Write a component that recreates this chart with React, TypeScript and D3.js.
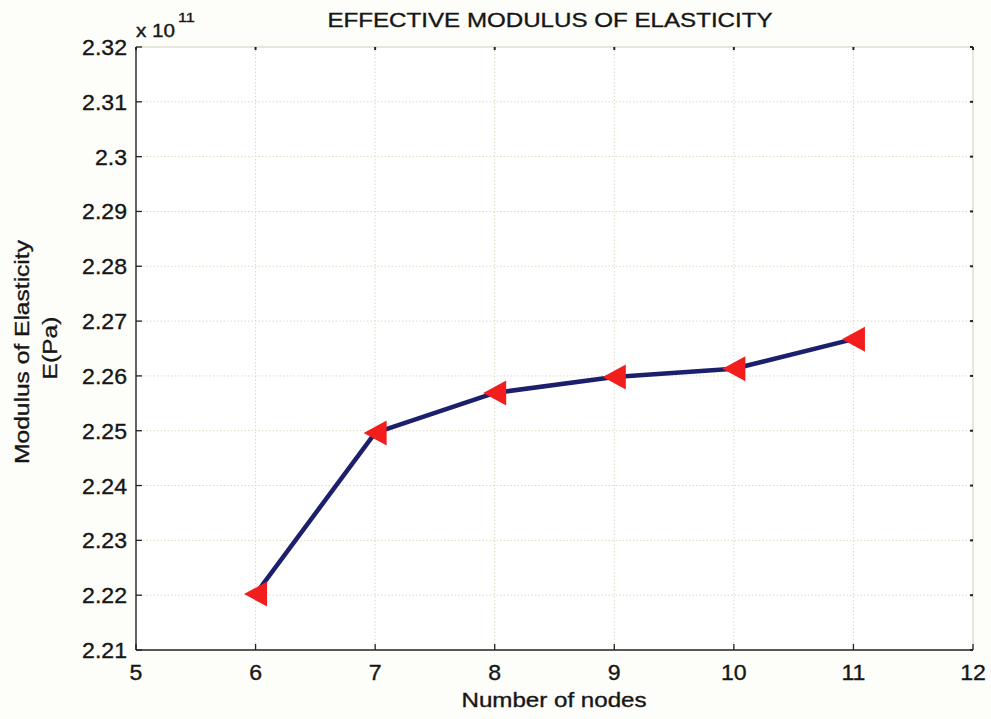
import React from "react";
import * as d3 from "d3";

// Effective modulus of elasticity vs. number of nodes
const nodes: number[] = [6, 7, 8, 9, 10, 11];
const modulus: number[] = [2.2202, 2.2496, 2.2569, 2.2598, 2.2613, 2.2667]; // ×10^11 Pa
const xTicks: number[] = [5, 6, 7, 8, 9, 10, 11, 12];
const yTicks: number[] = [2.21, 2.22, 2.23, 2.24, 2.25, 2.26, 2.27, 2.28, 2.29, 2.3, 2.31, 2.32];

const W = 991;
const H = 719;
const M = { left: 136, right: 973, top: 47, bottom: 650 };
const FONT = "'Liberation Sans', Arial, Helvetica, sans-serif";
const INK = "#161616";

// Text with a slightly widened, heavier face
function T(props: {
  x: number; y: number; size: number; anchor?: "start" | "middle" | "end";
  sx?: number; rotate?: number; children: React.ReactNode;
}) {
  const { x, y, size, anchor = "start", sx = 1.15, rotate = 0, children } = props;
  return (
    <g transform={`translate(${x},${y}) rotate(${rotate}) scale(${sx},1)`}>
      <text x={0} y={0} textAnchor={anchor} fontSize={size} fill={INK}
        stroke={INK} strokeWidth={0.35}>{children}</text>
    </g>
  );
}

export default function App() {
  const x = d3.scaleLinear().domain([5, 12]).range([M.left, M.right]);
  const y = d3.scaleLinear().domain([2.21, 2.32]).range([M.bottom, M.top]);

  const line = d3
    .line<number>()
    .x((_, i) => x(nodes[i]))
    .y((d) => y(d));

  const yFmt = (v: number) => String(+v.toFixed(2));

  // left-pointing triangle marker centred on the point
  const tri = (cx: number, cy: number) => {
    const w = 23, h = 25;
    return `M${cx - w / 2},${cy} L${cx + w / 2},${cy - h / 2} L${cx + w / 2},${cy + h / 2} Z`;
  };

  return (
    <svg
      width={W}
      height={H}
      style={{ position: "absolute", left: 0, top: 0, background: "#fdfdf9" }}
      fontFamily={FONT}
    >
      <rect x={0} y={0} width={W} height={H} fill="#fdfdf9" />
      <rect x={M.left} y={M.top} width={M.right - M.left} height={M.bottom - M.top} fill="#ffffff" />

      {/* grid */}
      {xTicks.slice(1, -1).map((t) => (
        <line key={"gx" + t} x1={x(t)} x2={x(t)} y1={M.top} y2={M.bottom}
          stroke="#dcdac2" strokeWidth={1} strokeDasharray="1.5 2" />
      ))}
      {yTicks.slice(1, -1).map((t) => (
        <line key={"gy" + t} x1={M.left} x2={M.right} y1={y(t)} y2={y(t)}
          stroke="#dcdac2" strokeWidth={1} strokeDasharray="1.5 2" />
      ))}

      {/* box */}
      <line x1={M.left} x2={M.right} y1={M.top} y2={M.top} stroke="#cfcdb8" strokeWidth={1} />
      <line x1={M.right} x2={M.right} y1={M.top} y2={M.bottom} stroke="#cfcdb8" strokeWidth={1} />
      <line x1={M.left} x2={M.right} y1={M.bottom} y2={M.bottom} stroke="#222" strokeWidth={1.4} />
      <line x1={M.left} x2={M.left} y1={M.top} y2={M.bottom} stroke="#222" strokeWidth={1.4} />

      {/* ticks */}
      {xTicks.map((t) => (
        <g key={"tx" + t}>
          <line x1={x(t)} x2={x(t)} y1={M.bottom} y2={M.bottom - 6} stroke="#222" strokeWidth={1.3} />
          <line x1={x(t)} x2={x(t)} y1={M.top} y2={M.top + 3} stroke="#222" strokeWidth={2} />
          <T x={x(t)} y={680} size={22} anchor="middle" sx={1.05}>{t}</T>
        </g>
      ))}
      {yTicks.map((t) => (
        <g key={"ty" + t}>
          <line x1={M.left} x2={M.left + 6} y1={y(t)} y2={y(t)} stroke="#222" strokeWidth={1.3} />
          <line x1={M.right - 3} x2={M.right} y1={y(t)} y2={y(t)} stroke="#222" strokeWidth={2} />
          <T x={127} y={y(t) + 8} size={22} anchor="end" sx={1.05}>{yFmt(t)}</T>
        </g>
      ))}

      {/* exponent */}
      <T x={136} y={37} size={18} sx={1.15}>x 10</T>
      <T x={178} y={22} size={13.5} sx={1.2}>11</T>

      {/* series */}
      <path d={line(modulus) || ""} fill="none" stroke="#1b1f6c" strokeWidth={4.5} strokeLinejoin="round" />
      {modulus.map((v, i) => (
        <path key={"m" + i} d={tri(x(nodes[i]), y(v))} fill="#f21d1d" />
      ))}

      {/* labels */}
      <T x={550} y={27} size={21} anchor="middle">EFFECTIVE MODULUS OF ELASTICITY</T>
      <T x={554} y={707} size={21} anchor="middle">Number of nodes</T>
      <T x={29} y={352} size={21} anchor="middle" rotate={-90} sx={1.17}>Modulus of Elasticity</T>
      <T x={57} y={348} size={21} anchor="middle" rotate={-90} sx={1.17}>E(Pa)</T>
    </svg>
  );
}
